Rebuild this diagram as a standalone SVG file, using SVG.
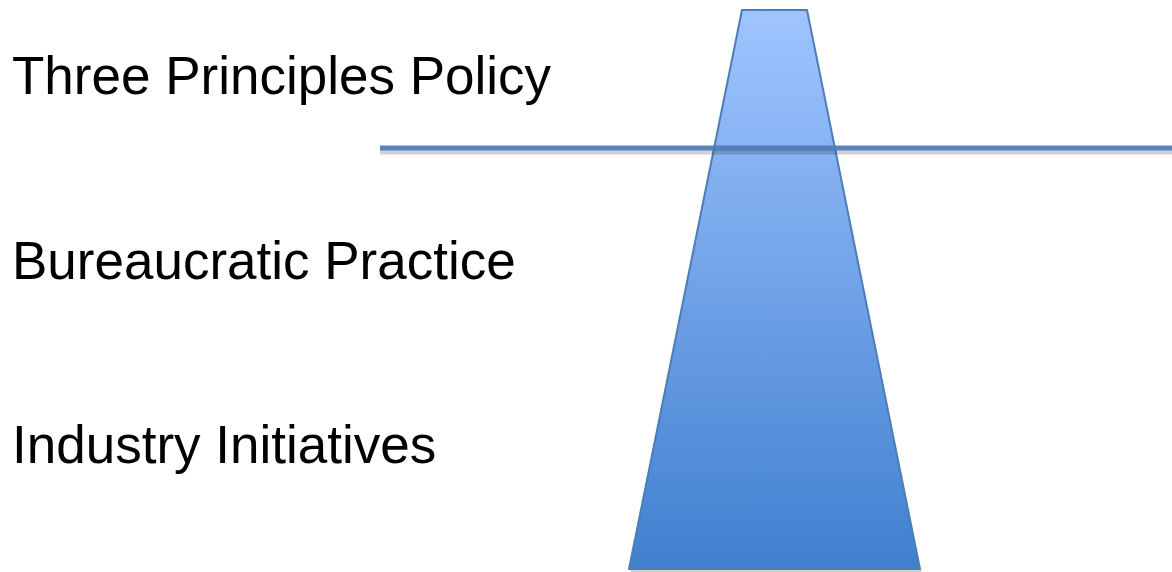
<svg xmlns="http://www.w3.org/2000/svg" width="1172" height="572" viewBox="0 0 1172 572">
<style>
.lbl{font-family:"Liberation Sans",Arial,sans-serif;font-size:53px;fill:#000}
</style>
<defs>
<linearGradient id="g" x1="0" y1="0" x2="0" y2="1">
<stop offset="0" stop-color="#a0c4ff"/>
<stop offset="1" stop-color="#3f80cf"/>
</linearGradient>
</defs>
<g id="labels">
<text class="lbl" x="12" y="94">Three Principles Policy</text>
<text class="lbl" x="12" y="279">Bureaucratic Practice</text>
<text class="lbl" x="12" y="463">Industry Initiatives</text>
</g>
<g id="trapezoid">
<polygon points="631,572 921,572 922,569 630,569" fill="#000" fill-opacity="0.18"/>
<polygon points="742,10 807,10 920,569 629,569" fill="url(#g)" stroke="#4a7ebb" stroke-width="2" stroke-linejoin="round"/>
</g>
<g id="connectors">
<line x1="380" y1="152" x2="1172" y2="152" stroke="#000" stroke-opacity="0.18" stroke-width="5"/>
<line x1="380" y1="148" x2="1172" y2="148" stroke="#4a7bb8" stroke-opacity="0.92" stroke-width="5"/>
</g>
</svg>
